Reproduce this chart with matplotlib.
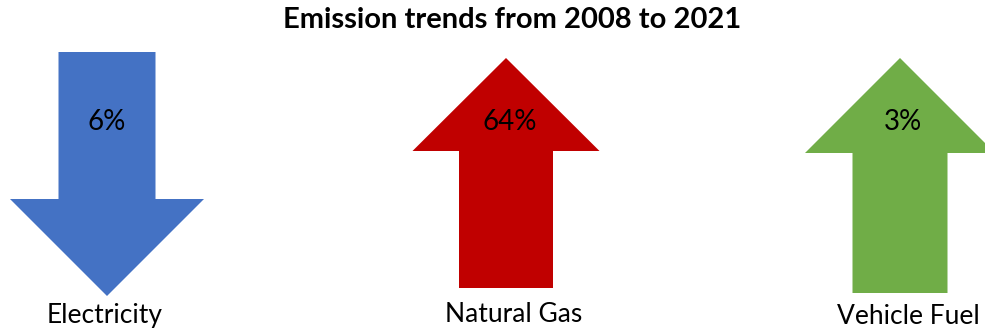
#!/usr/bin/env python3
"""Emission trend arrows, 2008 -> 2021."""

import matplotlib
matplotlib.use('Agg')
import matplotlib.pyplot as plt
from matplotlib.patches import Polygon

TITLE = 'Emission trends from 2008 to 2021'

# ── Data ─────────────────────────────────────────────────────────────────────
sources    = ['Electricity', 'Natural Gas', 'Vehicle Fuel']
change_pct = [6, 64, 3]
direction  = ['down', 'up', 'up']
colors     = ['#4472C4', '#C00000', '#70AD47']

# ── Layout (pixel space, y grows downward) ───────────────────────────────────
W, H = 985, 332
centers   = [107, 506, 900]
tails     = [52, 288, 293]      # flat end of the shaft
tips      = [296, 58, 58]       # point of the head
shaft_w   = [97, 94, 95]
head_w    = [194, 187, 190]
head_len  = [97, 93, 95]
pct_pos   = [(107, 122), (510, 122), (903, 122)]
label_pos = [(105, 315), (514, 314), (908, 317)]

FONT = ['Lato', 'DejaVu Sans']


def arrow_poly(cx, tail, tip, sw, hw, hl):
    sgn = 1 if tip > tail else -1
    base = tip - sgn * hl
    return [(cx - sw / 2, tail), (cx + sw / 2, tail), (cx + sw / 2, base),
            (cx + hw / 2, base), (cx, tip), (cx - hw / 2, base),
            (cx - sw / 2, base)]


fig = plt.figure(figsize=(W / 100, H / 100), dpi=100)
ax = fig.add_axes([0, 0, 1, 1])
ax.set_xlim(0, W)
ax.set_ylim(H, 0)
ax.axis('off')

for i, name in enumerate(sources):
    pts = arrow_poly(centers[i], tails[i], tips[i],
                     shaft_w[i], head_w[i], head_len[i])
    ax.add_patch(Polygon(pts, closed=True, facecolor=colors[i],
                         edgecolor='none'))
    ax.text(*pct_pos[i], f'{change_pct[i]}%', ha='center', va='center',
            fontsize=20, family=FONT, color='black')
    ax.text(*label_pos[i], name, ha='center', va='center',
            fontsize=19, family=FONT, color='black')

ax.text(512, 20, TITLE, ha='center', va='center', fontsize=21,
        fontweight='bold', family=FONT, color='black')

fig.savefig('out.png', dpi=100)
